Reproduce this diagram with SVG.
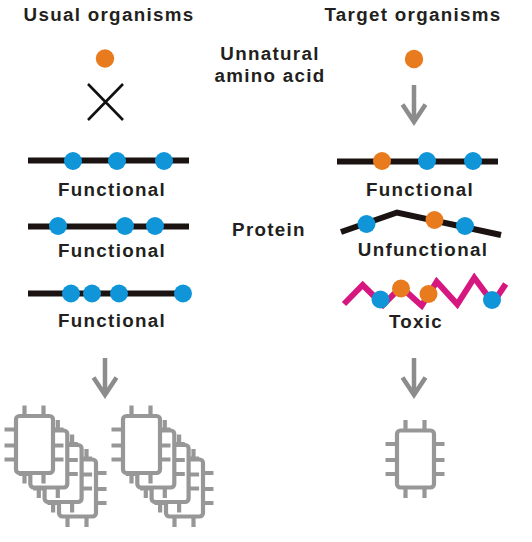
<svg xmlns="http://www.w3.org/2000/svg" xmlns:xlink="http://www.w3.org/1999/xlink" width="532" height="542" viewBox="0 0 532 542">
<style>
text{font-family:"Liberation Sans",Arial,sans-serif;font-weight:700;font-size:18.800px;letter-spacing:1.300px;fill:#231f20;text-anchor:middle}
.b{fill:#0f95d8}.o{fill:#e87b1e}
.p{fill:none;stroke:#1a1311;stroke-width:6}
.m{fill:none;stroke:#d6177f;stroke-width:6}
.a{fill:none;stroke:#8c8c8c;stroke-width:4.500}
.c{stroke:#979797;stroke-width:4.200}
.cb{fill:#fff;stroke:#979797;stroke-width:4.200}
</style>
<defs>
<g id="chip">
<path class="c" d="M10 -9V0M29 -9V0M10 60V69M29 60V69M-10 15H0M-10 31H0M-10 45H0M39 15H49M39 31H49M39 45H49"/>
<rect class="cb" x="1.500" y="1.500" width="37" height="57" rx="3.500"/>
</g>
<g id="stack">
<use xlink:href="#chip" x="43" y="43.500"/>
<use xlink:href="#chip" x="28.600" y="29"/>
<use xlink:href="#chip" x="14.300" y="14.500"/>
<use xlink:href="#chip" x="0" y="0"/>
</g>
<path id="arrow" class="a" d="M0 -40V-3M-11.500 -20.500L0 -3L11.500 -20.500"/>
</defs>
<g id="connectors">
<path d="M88 84L123 120M123 84L88 120" fill="none" stroke="#111" stroke-width="2.600"/>
<use xlink:href="#arrow" x="414" y="125"/>
<use xlink:href="#arrow" x="105" y="398"/>
<use xlink:href="#arrow" x="414" y="398"/>
</g>
<g id="title-left"><text x="109" y="21">Usual organisms</text></g>
<g id="title-right"><text x="413" y="21">Target organisms</text></g>
<g id="label-aa"><text x="270" y="60">Unnatural</text><text x="270" y="82">amino acid</text></g>
<g id="label-protein"><text x="269" y="236">Protein</text></g>
<g id="aa-left"><circle class="o" cx="105" cy="58.500" r="9.200"/></g>
<g id="aa-right"><circle class="o" cx="414" cy="59" r="9.200"/></g>
<g id="protein-l1"><path class="p" d="M28 160.500H189"/><circle class="b" cx="73" cy="161" r="9"/><circle class="b" cx="117" cy="161" r="9"/><circle class="b" cx="164" cy="161" r="9"/><text x="112" y="196">Functional</text></g>
<g id="protein-l2"><path class="p" d="M28 226.500H189"/><circle class="b" cx="58" cy="226" r="9"/><circle class="b" cx="125" cy="226" r="9"/><circle class="b" cx="155" cy="226" r="9"/><text x="112" y="257">Functional</text></g>
<g id="protein-l3"><path class="p" d="M28 293.500H189"/><circle class="b" cx="71" cy="293.500" r="9"/><circle class="b" cx="92" cy="293.500" r="9"/><circle class="b" cx="119" cy="293.500" r="9"/><circle class="b" cx="183" cy="293.500" r="9"/><text x="112" y="327">Functional</text></g>
<g id="protein-r1"><path class="p" d="M337 161.500H498"/><circle class="o" cx="382" cy="161" r="9"/><circle class="b" cx="427" cy="161" r="9"/><circle class="b" cx="473" cy="161" r="9"/><text x="420" y="196">Functional</text></g>
<g id="protein-r2"><path class="p" d="M341 232L397 212.500L501 235"/><circle class="b" cx="366.500" cy="224" r="9"/><circle class="o" cx="434.500" cy="220" r="9"/><circle class="b" cx="465" cy="226" r="9"/><text x="423" y="256">Unfunctional</text></g>
<g id="protein-r3"><path class="m" d="M344 304L362.700 285L383 305L401 287L421.700 305.700L436.700 281.700L457.300 304.300L474.300 277.700L493 303L505.700 284"/><circle class="b" cx="380.500" cy="299.500" r="9"/><circle class="o" cx="401" cy="288.500" r="9"/><circle class="o" cx="428.500" cy="294" r="9"/><circle class="b" cx="492" cy="300" r="9"/><text x="416" y="328">Toxic</text></g>
<g id="cells-left-1"><use xlink:href="#stack" x="14.500" y="414.500"/></g>
<g id="cells-left-2"><use xlink:href="#stack" x="121.500" y="414.500"/></g>
<g id="cell-right"><use xlink:href="#chip" x="395.500" y="429"/></g>
</svg>
